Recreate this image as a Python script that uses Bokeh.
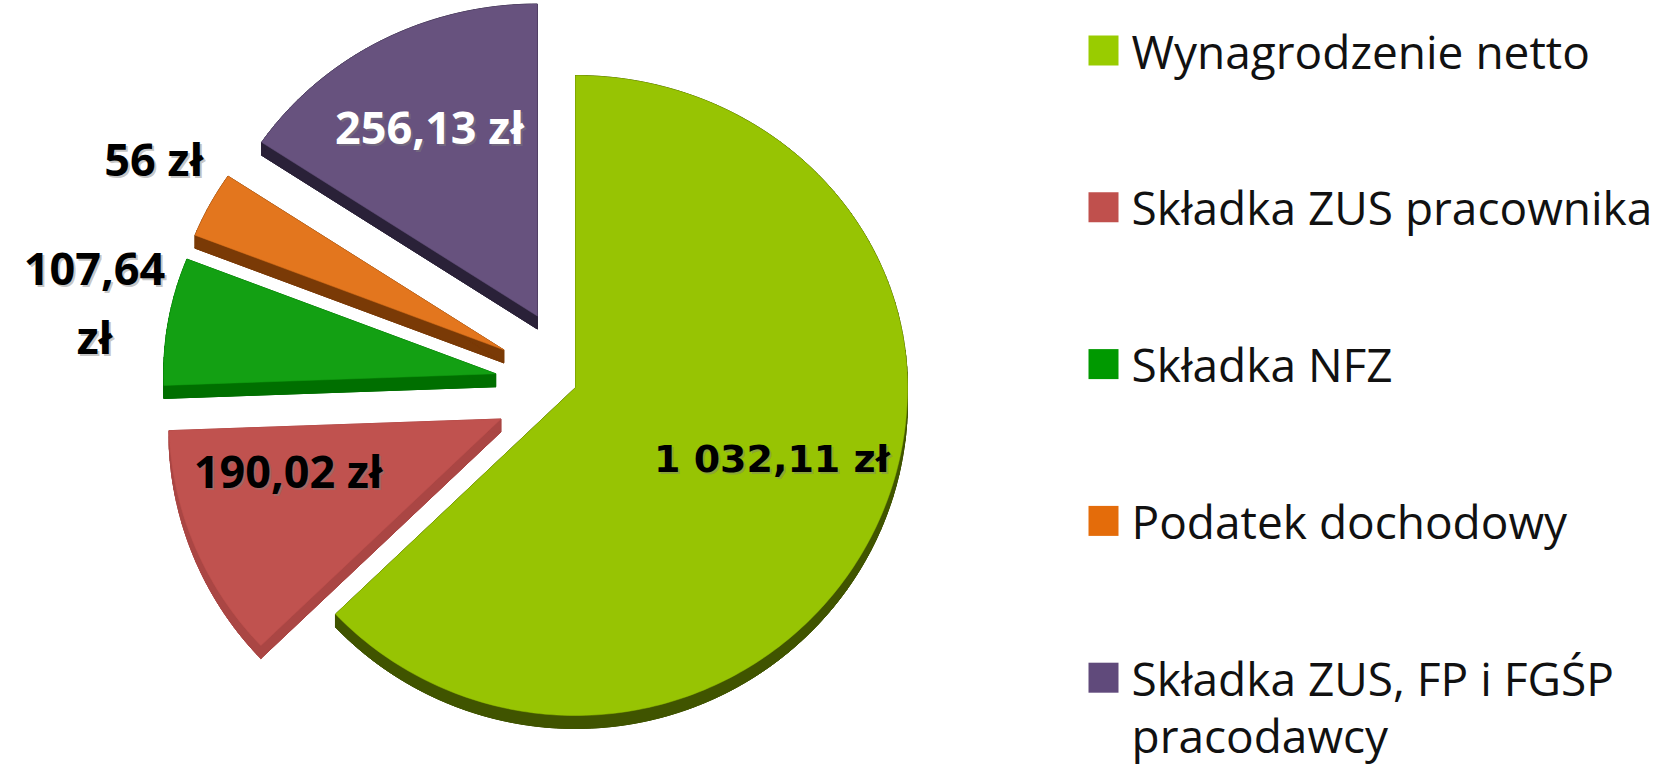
import math
import numpy as np
from bokeh.plotting import figure
from bokeh.models import Range1d
from bokeh.embed import file_html
from bokeh.resources import INLINE
from bokeh.core.properties import value

# ---------------- data ----------------
categories = ["Wynagrodzenie netto", "Składka ZUS pracownika", "Składka NFZ",
              "Podatek dochodowy", "Składka ZUS, FP i FGŚP\npracodawcy"]
amounts = [1032.11, 190.02, 107.64, 56.0, 256.13]
value_labels = ["1 032,11 zł", "190,02 zł", "107,64\nzł", "56 zł", "256,13 zł"]

# ---------------- style ----------------
top_colors = ["#97c403", "#c0524f", "#13a013", "#e3761e", "#67527e"]
side_colors = ["#405400", "#aa4644", "#006f00", "#7a3a06", "#2a2138"]
legend_colors = ["#99cc00", "#c0504d", "#009900", "#e46c0a", "#604a7b"]
label_colors = ["black", "black", "black", "black", "white"]

W, H = 1661, 771
CX, CY = 575, 387          # pie centre (pixels)
RX, RY_UP, RY_DN = 332, 312, 328
EXPLODE = [0, 81, 81, 81, 81]
DEPTH = 13
label_f = [0.63, 0.66, 1.23, 1.22, 0.69]
label_shift_deg = [-3, 9, 1, 2.5, 0]

p = figure(width=W, height=H, x_range=Range1d(0, W), y_range=Range1d(H, 0),
           output_backend="svg", toolbar_location=None, min_border=0,
           x_axis_location=None, y_axis_location=None)
p.grid.visible = False
p.outline_line_color = None
p.background_fill_color = "white"
p.border_fill_color = "white"


def pt(th, cx, cy, f=1.0):
    ry = RY_UP if math.cos(th) > 0 else RY_DN
    return cx + f * RX * math.sin(th), cy - f * ry * math.cos(th)


total = float(sum(amounts))
cum = np.concatenate([[0.0], np.cumsum(amounts)])
starts = cum[:-1] / total * 2 * math.pi
ends = cum[1:] / total * 2 * math.pi

# draw back-to-front: purple, orange, NFZ, red, green
order = [4, 3, 2, 1, 0]
for i in order:
    s, e = starts[i], ends[i]
    mid = (s + e) / 2
    vx = CX + EXPLODE[i] * math.sin(mid)
    vy = CY - EXPLODE[i] * math.cos(mid)
    n = max(4, int(math.degrees(e - s)))
    arc = [pt(s + (e - s) * k / n, vx, vy) for k in range(n + 1)]
    poly = [(vx, vy)] + arc
    xs = [q[0] for q in poly]
    ys = [q[1] for q in poly]
    # extrusion (side walls)
    qx, qy = [], []
    m = len(poly)
    for k in range(m):
        a = poly[k]
        b = poly[(k + 1) % m]
        qx.append([a[0], b[0], b[0], a[0]])
        qy.append([a[1], b[1], b[1] + DEPTH, a[1] + DEPTH])
    qx.append(xs)
    qy.append([y + DEPTH for y in ys])
    p.patches(qx, qy, fill_color=side_colors[i], line_color=side_colors[i], line_width=1)
    p.patch(xs, ys, fill_color=top_colors[i], line_color=top_colors[i], line_width=0.5)

# value labels
for i in range(len(amounts)):
    s, e = starts[i], ends[i]
    mid = (s + e) / 2
    vx = CX + EXPLODE[i] * math.sin(mid)
    vy = CY - EXPLODE[i] * math.cos(mid)
    lx, ly = pt(mid + math.radians(label_shift_deg[i]), vx, vy, label_f[i])
    if i == 0:
        font, fs = "DejaVu Sans", "38px"
    else:
        font, fs = "Open Sans", "45px"
    p.text(x=[lx + 2], y=[ly + 2], text=[value_labels[i]], text_font=value(font),
           text_font_size=fs, text_font_style="bold", text_align="center",
           text_baseline="middle", text_color="#808080", text_alpha=0.45,
           text_line_height=1.13)
    p.text(x=[lx], y=[ly], text=[value_labels[i]], text_font=value(font),
           text_font_size=fs, text_font_style="bold", text_align="center",
           text_baseline="middle", text_color=label_colors[i], text_line_height=1.13)

# legend (manual)
LEG_X, LEG_Y0, LEG_DY, SQ = 1088, 50, 156.8, 30
LEG_FS = 46
LEG_LINE_PX = 58
LEG_LH = LEG_LINE_PX / (1.362 * LEG_FS)
leg_y = [LEG_Y0 + k * LEG_DY for k in range(len(categories))]
p.rect(x=[LEG_X + SQ / 2] * len(categories), y=leg_y, width=SQ, height=SQ,
       fill_color=legend_colors, line_color=None)
txt_y = [y + c.count("\n") * LEG_LINE_PX / 2 for y, c in zip(leg_y, categories)]
p.text(x=[LEG_X + SQ + 13] * len(categories), y=txt_y, text=categories,
       text_font=value("Open Sans"), text_font_size=f"{LEG_FS}px",
       text_baseline="middle", text_align="left", text_color="#111111",
       text_line_height=LEG_LH)

open("out.html", "w").write(file_html(p, INLINE))
